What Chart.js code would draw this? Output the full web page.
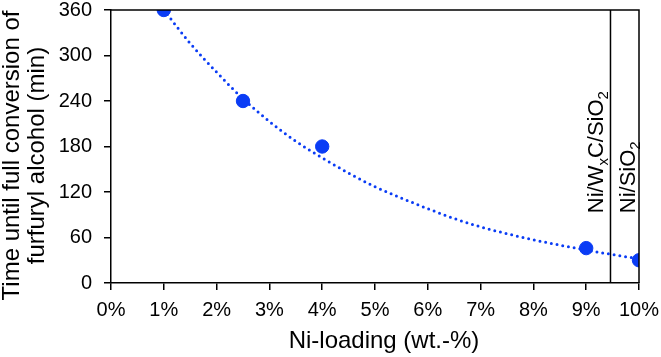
<!DOCTYPE html>
<html>
<head>
<meta charset="utf-8">
<script src="https://cdn.jsdelivr.net/npm/chart.js@4/dist/chart.umd.min.js"></script>
<style>
  html, body { margin: 0; padding: 0; background: #fff; }
  #wrap { width: 661px; height: 357px; }
</style>
</head>
<body>
<div id="wrap"><canvas id="chart"></canvas></div>
<script>
// measured points
const niLoading = [1, 2.5, 4, 9, 10];
const convTime = [360, 240, 180, 46, 30];

// dotted trend line
const trendX = [1, 1.5, 2, 2.5, 3, 3.5, 4, 4.5, 5, 5.5, 6, 6.5, 7, 7.5, 8, 8.5, 9, 9.5, 10];
const trendY = [360, 316, 278, 243, 213, 187, 165, 145, 127, 112, 98, 85, 74, 65, 57, 50, 43.5, 37.5, 32];

// separator between catalyst references
const sepX = [9.46, 9.46];
const sepY = [0, 360];

// rotated labels (text pieces, subscript flag), anchored on data values
const refLabels = [
    { parts: [['Ni/W', false], ['x', true], ['C/SiO', false], ['2', true]], x: 9.46, y: 92, gap: 7 },
    { parts: [['Ni/SiO', false], ['2', true]], x: 10, y: 92, gap: 4 }
];

const xTicks = [0, 1, 2, 3, 4, 5, 6, 7, 8, 9, 10];
const yTicks = [0, 60, 120, 180, 240, 300, 360];

const xTitle = 'Ni-loading (wt.-%)';
const yTitle = ['Time until full conversion of', 'furfuryl alcohol (min)'];

const blue = '#0a3cf5';
const fontFamily = '"Liberation Sans", Arial, sans-serif';

// frame on top and right, axis titles, catalyst labels
const framePlugin = {
    id: 'frame',
    afterDatasetsDraw(chart) {
        const { ctx, chartArea, scales } = chart;
        ctx.save();
        ctx.strokeStyle = '#000';
        ctx.lineWidth = 1.5;
        ctx.beginPath();
        ctx.moveTo(chartArea.left, chartArea.top);
        ctx.lineTo(chartArea.right, chartArea.top);
        ctx.lineTo(chartArea.right, chartArea.bottom);
        ctx.stroke();

        ctx.fillStyle = '#000';
        ctx.textBaseline = 'alphabetic';
        refLabels.forEach(lab => {
            const px = scales.x.getPixelForValue(lab.x) - lab.gap;
            const py = scales.y.getPixelForValue(lab.y);
            ctx.save();
            ctx.translate(px, py);
            ctx.rotate(-Math.PI / 2);
            let cx = 0;
            lab.parts.forEach(([txt, sub]) => {
                ctx.font = (sub ? '15px ' : '22px ') + fontFamily;
                ctx.fillText(txt, cx, sub ? 5 : 0);
                cx += ctx.measureText(txt).width;
            });
            ctx.restore();
        });

        // axis titles
        ctx.font = '24px ' + fontFamily;
        ctx.textAlign = 'center';
        ctx.textBaseline = 'middle';
        ctx.fillText(xTitle, (chartArea.left + chartArea.right) / 2 + 9, chart.height - 16);
        ctx.save();
        ctx.translate(0, (chartArea.top + chartArea.bottom) / 2 + 9);
        ctx.rotate(-Math.PI / 2);
        yTitle.forEach((line, i) => ctx.fillText(line, 0, 12 + i * 25));
        ctx.restore();
        ctx.restore();
    }
};

new Chart(document.getElementById('chart'), {
    type: 'scatter',
    data: {
        datasets: [
            {
                label: 'trend',
                data: trendX.map((x, i) => ({ x: x, y: trendY[i] })),
                showLine: true,
                borderColor: blue,
                borderWidth: 3,
                borderDash: [0, 5.8],
                borderCapStyle: 'round',
                cubicInterpolationMode: 'monotone',
                pointRadius: 0,
                order: 2
            },
            {
                label: 'measured',
                data: niLoading.map((x, i) => ({ x: x, y: convTime[i] })),
                backgroundColor: blue,
                borderColor: blue,
                pointRadius: 6.7,
                order: 1
            },
            {
                label: 'separator',
                data: sepX.map((x, i) => ({ x: x, y: sepY[i] })),
                showLine: true,
                borderColor: '#000',
                borderWidth: 1.5,
                pointRadius: 0,
                order: 3
            }
        ]
    },
    options: {
        responsive: true,
        maintainAspectRatio: false,
        animation: false,
        layout: { padding: { top: 10, right: 22, left: 0, bottom: 0 } },
        plugins: {
            legend: { display: false },
            tooltip: { enabled: false }
        },
        scales: {
            x: {
                type: 'linear',
                min: 0,
                max: 10,
                afterBuildTicks: axis => { axis.ticks = xTicks.map(v => ({ value: v })); },
                ticks: {
                    callback: v => v + '%',
                    color: '#000',
                    font: { family: fontFamily, size: 20 },
                    padding: 8,
                    maxRotation: 0
                },
                grid: { drawOnChartArea: false, drawTicks: true, tickLength: 7, color: '#000', lineWidth: 1.5 },
                border: { color: '#000', width: 1.5 },
                afterFit: axis => {
                    axis.height = 74;
                    axis.paddingLeft = 0;
                    axis.paddingRight = 0;
                }
            },
            y: {
                min: 0,
                max: 360,
                afterBuildTicks: axis => { axis.ticks = yTicks.map(v => ({ value: v })); },
                ticks: {
                    color: '#000',
                    font: { family: fontFamily, size: 20 },
                    padding: 12
                },
                grid: { drawOnChartArea: false, drawTicks: true, tickLength: 7, color: '#000', lineWidth: 1.5 },
                border: { color: '#000', width: 1.5 },
                afterFit: axis => {
                    axis.width = 111;
                    axis.paddingTop = 0;
                    axis.paddingBottom = 0;
                }
            }
        }
    },
    plugins: [framePlugin]
});
</script>
</body>
</html>
